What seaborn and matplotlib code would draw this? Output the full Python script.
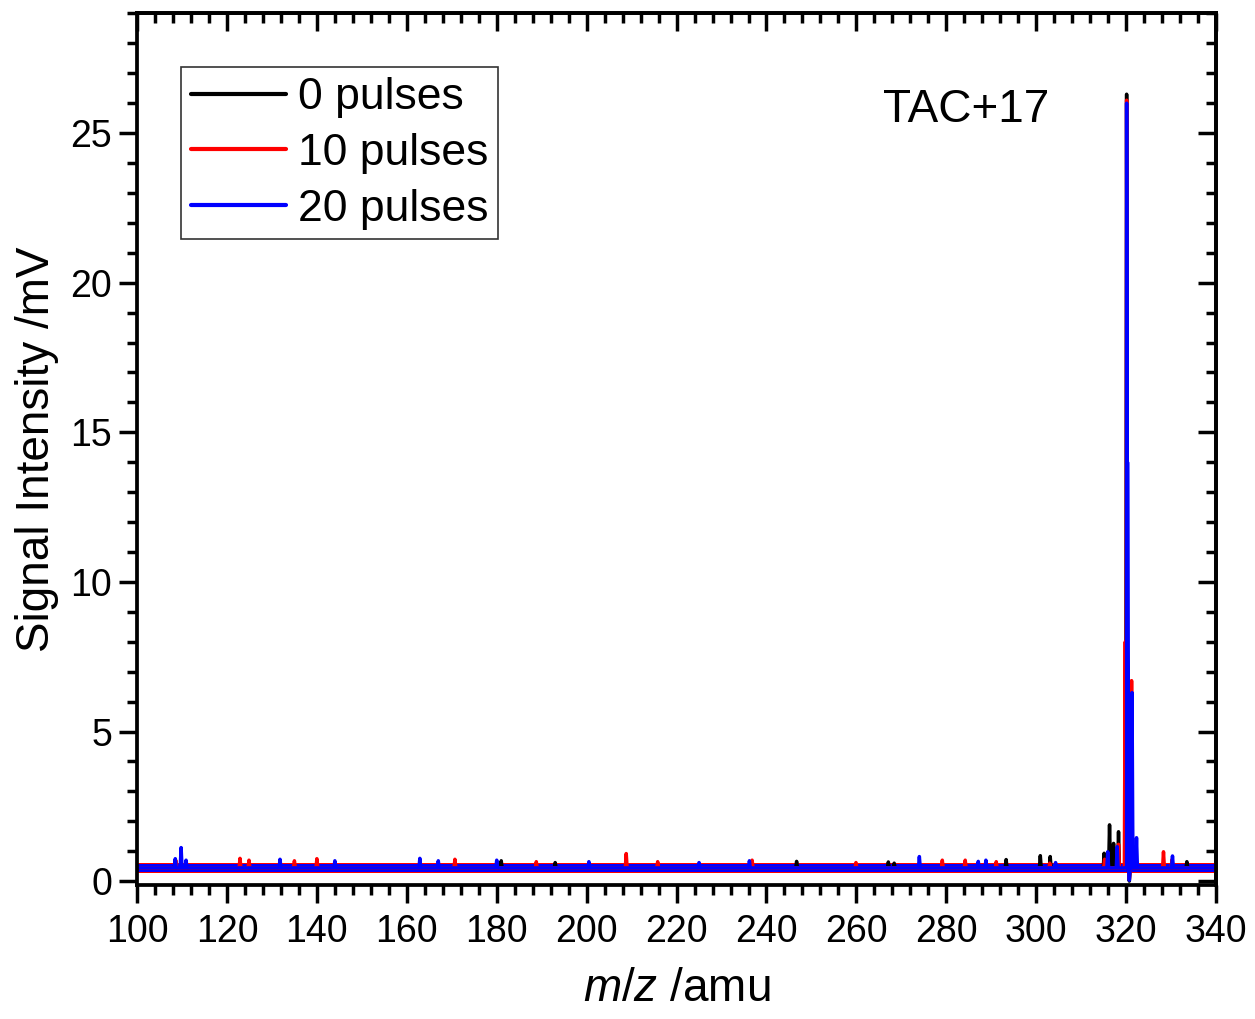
import numpy as np
import pandas as pd
import matplotlib
matplotlib.use('Agg')
import matplotlib.pyplot as plt
import seaborn as sns
from matplotlib.ticker import MultipleLocator, NullFormatter

# series labels and colours
labels = ['0 pulses', '10 pulses', '20 pulses']
colors = ['#000000', '#ff0000', '#0000ff']

# baseline level and noise envelope (mV)
baseline = [0.44, 0.44, 0.44]
noise_low = [0.27, 0.28, 0.30]
noise_high = [0.57, 0.60, 0.58]

# spikes: m/z position and peak signal (mV)
mz_0 = [108.5, 181.0, 193.0, 246.7, 267.1, 268.4, 293.3, 300.9, 303.1,
        315.1, 316.3, 317.2, 318.3, 320.1, 320.7, 321.2, 333.5]
int_0 = [0.70, 0.68, 0.62, 0.66, 0.64, 0.60, 0.72, 0.85, 0.82,
         0.93, 1.88, 1.26, 1.65, 26.3, 0.00, 5.0, 0.65]

mz_10 = [108.6, 122.9, 124.9, 135.0, 140.0, 170.7, 188.8, 208.8, 215.8,
         236.8, 259.9, 279.1, 284.2, 291.1, 303.0, 315.2, 318.3, 319.8,
         320.1, 320.7, 321.2, 328.3, 330.2]
int_10 = [0.70, 0.76, 0.70, 0.68, 0.75, 0.73, 0.65, 0.92, 0.65,
          0.70, 0.62, 0.70, 0.70, 0.65, 0.60, 0.73, 1.23, 8.0,
          26.1, 0.05, 6.7, 0.98, 0.72]

mz_20 = [108.5, 109.8, 110.9, 131.8, 144.0, 162.9, 167.0, 180.0, 200.5,
         225.0, 236.2, 274.0, 287.1, 288.8, 304.3, 315.9, 318.0, 320.1,
         320.3, 320.7, 321.3, 322.3, 330.3]
int_20 = [0.75, 1.12, 0.70, 0.73, 0.68, 0.76, 0.68, 0.70, 0.65,
          0.62, 0.68, 0.82, 0.66, 0.70, 0.62, 0.98, 1.15, 26.0,
          14.0, 0.03, 6.3, 1.45, 0.84]

peak_mz = [mz_0, mz_10, mz_20]
peak_int = [int_0, int_10, int_20]
half_width = 0.2
mz_range = (100, 340)

# build one long table: each spike goes baseline -> peak -> baseline
rows = []
for lab, base, mzs, ints in zip(labels, baseline, peak_mz, peak_int):
    rows.append((mz_range[0], base, lab))
    rows.append((mz_range[1], base, lab))
    for m, v in zip(mzs, ints):
        rows.append((m - half_width, base, lab))
        rows.append((m, v, lab))
        rows.append((m + half_width, base, lab))
df = pd.DataFrame(rows, columns=['mz', 'signal', 'series'])

sns.set_style('ticks')
plt.rcParams['font.family'] = ['Liberation Sans', 'DejaVu Sans']
plt.rcParams['mathtext.fontset'] = 'custom'
plt.rcParams['mathtext.rm'] = 'Liberation Sans'
plt.rcParams['mathtext.it'] = 'Liberation Sans:italic'
for key in ['text.color', 'axes.labelcolor', 'xtick.color', 'ytick.color',
            'axes.edgecolor']:
    plt.rcParams[key] = 'black'

fig = plt.figure(figsize=(12.55, 10.19), dpi=100)
ax = fig.add_axes([0.1092, 0.1315, 0.8598, 0.8553])

# noise band under each trace
for lo, hi, c in zip(noise_low, noise_high, colors):
    ax.fill_between(mz_range, lo, hi, color=c, lw=0, zorder=1)

sns.lineplot(data=df, x='mz', y='signal', hue='series', hue_order=labels,
             palette=colors, estimator=None, sort=True, lw=2.5, ax=ax)

ax.set_xlim(100, 340)
ax.set_ylim(-0.13, 29.0)
ax.xaxis.set_major_locator(MultipleLocator(20))
ax.xaxis.set_minor_locator(MultipleLocator(4))
ax.yaxis.set_major_locator(MultipleLocator(5))
ax.yaxis.set_minor_locator(MultipleLocator(1))
ax.tick_params(which='major', direction='out', length=13, width=2.5,
               labelsize=27, pad=5)
ax.tick_params(axis='x', which='major', pad=8)
ax.tick_params(which='minor', direction='out', length=7, width=2.5)
for sp in ax.spines.values():
    sp.set_linewidth(2.7)

# mirrored ticks on top/right point inward
top = ax.secondary_xaxis('top')
top.xaxis.set_major_locator(MultipleLocator(20))
top.xaxis.set_minor_locator(MultipleLocator(4))
top.xaxis.set_major_formatter(NullFormatter())
top.tick_params(which='major', direction='in', length=13, width=2.5)
top.tick_params(which='minor', direction='in', length=7, width=2.5)
right = ax.secondary_yaxis('right')
right.yaxis.set_major_locator(MultipleLocator(5))
right.yaxis.set_minor_locator(MultipleLocator(1))
right.yaxis.set_major_formatter(NullFormatter())
right.tick_params(which='major', direction='in', length=13, width=2.5)
right.tick_params(which='minor', direction='in', length=7, width=2.5)
for sec in (top, right):
    for sp in sec.spines.values():
        sp.set_linewidth(2.7)

ax.set_xlabel(r'$m/z$ /amu', fontsize=33, labelpad=12)
ax.set_ylabel('Signal Intensity /mV', fontsize=33, labelpad=8)

ax.text(0.768, 0.875, 'TAC+17', transform=ax.transAxes, fontsize=33,
        ha='center', va='baseline')

handles, _ = ax.get_legend_handles_labels()
leg = ax.legend(handles, labels, loc='upper left',
                bbox_to_anchor=(0.0408, 0.938), borderaxespad=0,
                fontsize=32, frameon=True, fancybox=False, framealpha=1,
                edgecolor='#333333', handlelength=2.15, handletextpad=0.25,
                labelspacing=0.33, borderpad=0.22)
leg.get_frame().set_linewidth(1.2)
for ln in leg.get_lines():
    ln.set_linewidth(3)

fig.savefig('out.png', dpi=100)
